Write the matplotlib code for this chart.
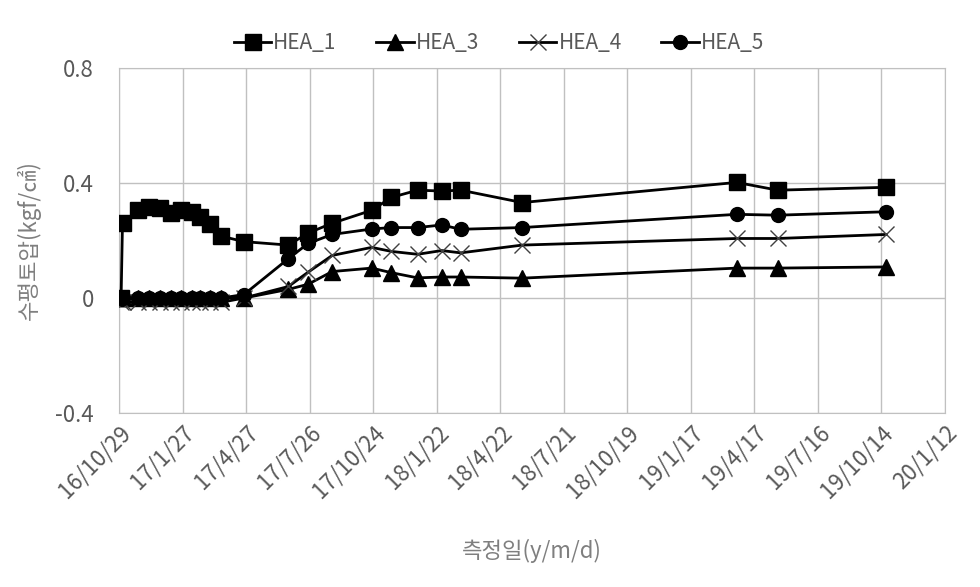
import matplotlib.pyplot as plt
import pandas as pd

plt.rcParams["font.family"] = ["Noto Sans CJK KR", "DejaVu Sans"]

dates = [
    "2016-11-01", "2016-11-03", "2016-11-25", "2016-12-11", "2016-12-26",
    "2017-01-11", "2017-01-25", "2017-02-09", "2017-02-21", "2017-03-07",
    "2017-03-23", "2017-04-24", "2017-06-26", "2017-07-24", "2017-08-27",
    "2017-10-22", "2017-11-19", "2017-12-26", "2018-01-29", "2018-02-25",
    "2018-05-23", "2019-03-23", "2019-05-20", "2019-10-21",
]
hea_1 = [0, 0.262, 0.305, 0.317, 0.312, 0.297, 0.305, 0.30, 0.282, 0.259,
         0.215, 0.196, 0.184, 0.226, 0.26, 0.305, 0.35, 0.375, 0.372, 0.375,
         0.332, 0.402, 0.375, 0.385]
hea_3 = [0, 0, 0, 0, 0, 0, 0, 0, 0, 0,
         0, 0.0, 0.03, 0.048, 0.092, 0.104, 0.088, 0.07, 0.073, 0.073,
         0.069, 0.104, 0.104, 0.108]
hea_4 = [-0.015, -0.015, -0.015, -0.015, -0.015, -0.015, -0.015, -0.015, -0.015, -0.015,
         -0.015, 0.0, 0.04, 0.09, 0.148, 0.176, 0.162, 0.152, 0.165, 0.157,
         0.184, 0.207, 0.207, 0.221]
hea_5 = [0, 0, 0, 0, 0, 0, 0, 0, 0, 0,
         0, 0.012, 0.137, 0.19, 0.221, 0.24, 0.245, 0.245, 0.254, 0.239,
         0.245, 0.291, 0.288, 0.30]

x_start = "2016-10-29"
x_step_days = 90
x_n_ticks = 14
y_ticks = [-0.4, 0, 0.4, 0.8]


def main():
    x = pd.to_datetime(dates)
    ticks = pd.Timestamp(x_start) + pd.to_timedelta([i * x_step_days for i in range(x_n_ticks)], unit="D")
    tick_labels = [f"{t.year % 100}/{t.month}/{t.day}" for t in ticks]

    fig = plt.figure(figsize=(9.8, 5.87), dpi=100)
    ax = fig.add_axes([0.1214, 0.2964, 0.8429, 0.5878])

    ax.plot(x, hea_1, "-s", color="black", lw=2, ms=11, label="HEA_1", zorder=3)
    ax.plot(x, hea_3, "-^", color="black", lw=2, ms=11, label="HEA_3", zorder=3)
    ax.plot(x, hea_4, "-x", color="black", lw=2, ms=12, mew=1,
            mec="#404040", label="HEA_4", zorder=3)
    ax.plot(x, hea_5, "-o", color="black", lw=2, ms=10, label="HEA_5", zorder=3)

    ax.set_xlim(ticks[0], ticks[-1])
    ax.set_ylim(-0.4, 0.8)
    ax.set_xticks(ticks)
    ax.set_xticklabels(tick_labels, rotation=45, ha="right", rotation_mode="anchor")
    ax.set_yticks(y_ticks)
    ax.set_yticklabels(["-0.4", "0", "0.4", "0.8"])
    ax.tick_params(length=0, labelsize=16, labelcolor="#595959")
    ax.tick_params(axis="y", pad=18)
    ax.tick_params(axis="x", pad=6)

    ax.grid(True, color="#c0c0c0", lw=1)
    ax.set_axisbelow(True)
    for s in ax.spines.values():
        s.set_color("#c0c0c0")

    ax.set_ylabel("수평토압(kgf/㎠)", fontsize=16, color="#7f7f7f", labelpad=10)
    ax.set_xlabel("측정일(y/m/d)", fontsize=16, color="#7f7f7f", labelpad=26)

    leg = ax.legend(loc="lower center", bbox_to_anchor=(0.46, 0.985), ncol=4,
                    frameon=False, fontsize=15, handlelength=1.8,
                    handletextpad=0.1, columnspacing=1.9)
    for t in leg.get_texts():
        t.set_color("#595959")

    fig.savefig("out.png", dpi=100)


if __name__ == "__main__":
    main()
